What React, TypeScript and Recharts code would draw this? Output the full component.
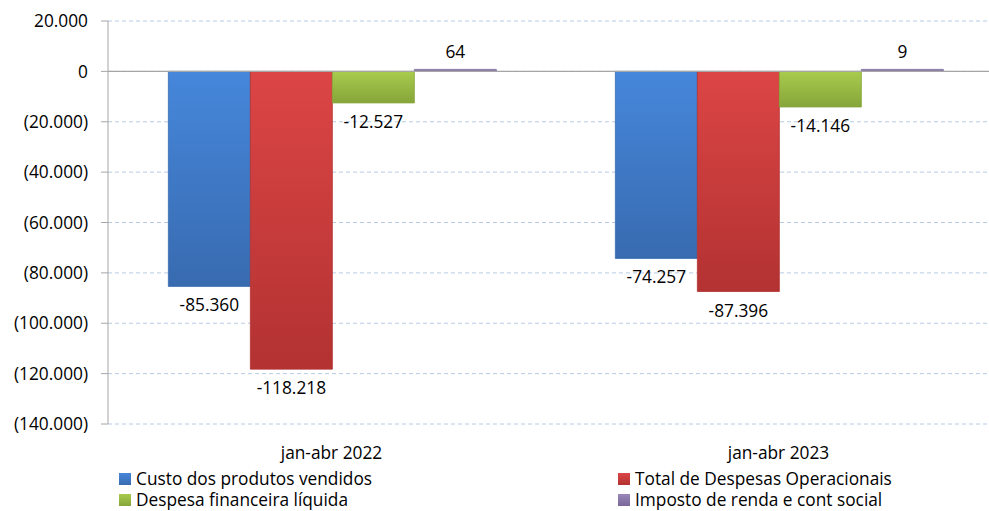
import React from 'react';
import {BarChart, Bar, XAxis, YAxis, CartesianGrid, ReferenceLine, LabelList} from 'recharts';

const periods = ['jan-abr 2022', 'jan-abr 2023'];
const custo = [-85360, -74257];
const despesasOp = [-118218, -87396];
const despFin = [-12527, -14146];
const imposto = [64, 9];
const yTicks = [20000, 0, -20000, -40000, -60000, -80000, -100000, -120000, -140000];

const series = [
    {key: 'custo', name: 'Custo dos produtos vendidos', top: '#4687db', bottom: '#386bb0'},
    {key: 'despesasOp', name: 'Total de Despesas Operacionais', top: '#dc4545', bottom: '#b33232'},
    {key: 'despFin', name: 'Despesa financeira líquida', top: '#a9cb4d', bottom: '#86a53a'},
    {key: 'imposto', name: 'Imposto de renda e cont social', top: '#9a88bb', bottom: '#7a6699'},
];

const data = periods.map((p, i) => ({
    period: p,
    custo: custo[i],
    despesasOp: despesasOp[i],
    despFin: despFin[i],
    imposto: imposto[i],
}));

const FONT = '"Open Sans", Lato, sans-serif';
const FS = 17.3;

const dots = (n: number) => Math.abs(n).toString().replace(/\B(?=(\d{3})+(?!\d))/g, '.');
const fmtTick = (v: number) => (v < 0 ? `(${dots(v)})` : dots(v));
const fmtLabel = (v: number) => (v < 0 ? '-' : '') + dots(v);

const BarLabel = (props: any) => {
    const {x, y, width, height, value} = props;
    const top = Math.min(y, y + height);
    const bottom = Math.max(y, y + height);
    const cx = x + width / 2;
    const ty = value < 0 ? bottom + 25 : top - 11;
    return <text x={cx} y={ty} textAnchor="middle" fontSize={FS} fontFamily={FONT} fill="#000">{fmtLabel(value)}</text>;
};

const LegendBox = () => (
    <div style={{position: 'absolute', top: 469, left: 119, width: 870, display: 'grid',
        gridTemplateColumns: '499px 370px', rowGap: 2, fontFamily: FONT, fontSize: FS, color: '#000'}}>
        {series.map(s => (
            <div key={s.key} style={{display: 'flex', alignItems: 'center', height: 19}}>
                <span style={{display: 'inline-block', width: 12, height: 12, marginRight: 5,
                    background: `linear-gradient(${s.top}, ${s.bottom})`}}/>
                {s.name}
            </div>
        ))}
    </div>
);

export default function App() {
    return <div style={{position: 'absolute', left: 0, top: 0, width: 989, height: 511, overflow: 'hidden', background: '#fff'}}>
        <BarChart width={1010} height={511} data={data} barCategoryGap="13.5%" barGap={0}
                  margin={{top: 21, right: 8, left: 0, bottom: 57}}>
            <defs>
                {series.map(s => (
                    <linearGradient key={s.key} id={`g-${s.key}`} x1="0" y1="0" x2="0" y2="1">
                        <stop offset="0%" stopColor={s.top}/>
                        <stop offset="100%" stopColor={s.bottom}/>
                    </linearGradient>
                ))}
            </defs>
            <CartesianGrid vertical={false} stroke="#b8cbe6" strokeDasharray="4 3"/>
            <XAxis dataKey="period" axisLine={false} tickLine={false} height={30}
                   tick={{fontSize: FS, fontFamily: FONT, fill: '#000'}} tickMargin={17}/>
            <YAxis domain={[-140000, 20000]} ticks={yTicks} interval={0} width={108}
                   tickFormatter={fmtTick} axisLine={{stroke: '#a6a6a6'}} tickLine={{stroke: '#a6a6a6'}}
                   tickSize={7} tickMargin={13} tick={{fontSize: FS, fontFamily: FONT, fill: '#000'}}/>
            <ReferenceLine y={0} stroke="#a6a6a6" strokeWidth={1.2}/>
            {series.map(s => (
                <Bar key={s.key} dataKey={s.key} name={s.name} fill={`url(#g-${s.key})`}
                     stroke={s.bottom} strokeWidth={0.8} minPointSize={2} isAnimationActive={false}>
                    <LabelList dataKey={s.key} content={BarLabel}/>
                </Bar>
            ))}
        </BarChart>
        <LegendBox/>
    </div>;
}
